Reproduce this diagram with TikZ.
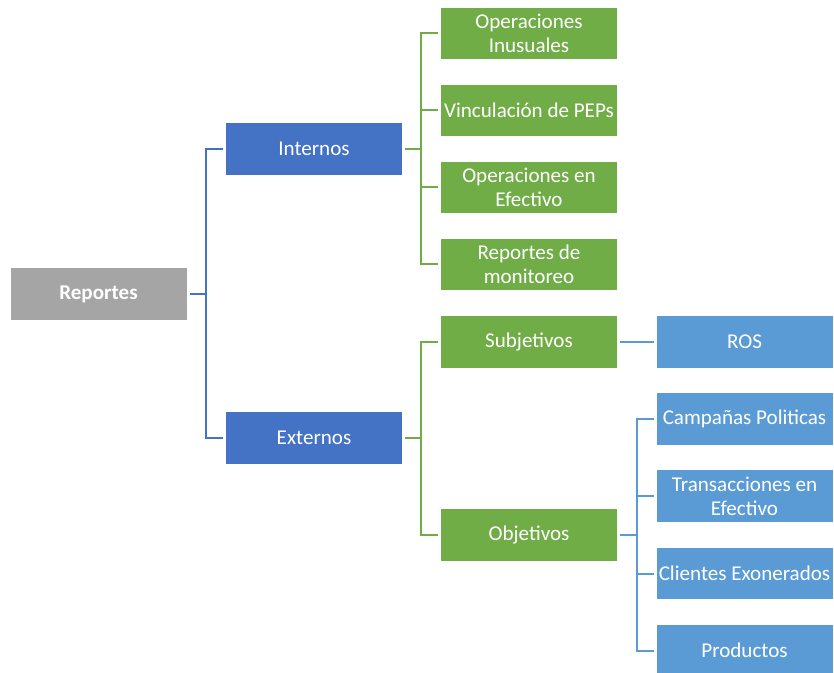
\documentclass[tikz,border=0pt]{standalone}
\usepackage{fontspec}
\setmainfont{Carlito}
\definecolor{gris}{HTML}{A5A5A5}
\definecolor{azul}{HTML}{4472C4}
\definecolor{verde}{HTML}{70AD47}
\definecolor{celeste}{HTML}{5B9BD5}
\begin{document}
\begin{tikzpicture}
        [x=0.75pt, y=-0.75pt,
        box/.style={rectangle, minimum width=132pt, minimum height=38.5pt,
            align=center, inner sep=0pt, outer sep=2.25pt, text=white,
            font=\fontsize{15.8}{18}\selectfont},
        root/.style={box, fill=gris, font=\fontsize{15.8}{18}\selectfont\bfseries},
        level1/.style={box, fill=azul},
        level2/.style={box, fill=verde},
        level3/.style={box, fill=celeste},
        blueline/.style={azul, line width=1.5pt},
        greenline/.style={verde, line width=1.5pt},
        lightline/.style={celeste, line width=1.5pt}]

        \useasboundingbox (0,0) rectangle (834,673);

        \node[root] (rep) at (98.5,294) {Reportes};
        \node[level1] (int) at (314,149) {Internos};
        \node[level1] (ext) at (314,438) {Externos};

        \node[level2] (inu) at (529,33.5) {Operaciones\\Inusuales};
        \node[level2] (pep) at (529,110.5) {Vinculación de PEPs};
        \node[level2] (efe) at (529,187.5) {Operaciones en\\Efectivo};
        \node[level2] (mon) at (529,264.5) {Reportes de\\monitoreo};
        \node[level2] (sub) at (529,342) {Subjetivos};
        \node[level2] (obj) at (529,535) {Objetivos};

        \node[level3] (ros) at (744.5,342) {ROS};
        \node[level3] (cam) at (744.5,419) {Campañas Politicas};
        \node[level3] (tra) at (744.5,496) {Transacciones en\\Efectivo};
        \node[level3] (cli) at (744.5,573.5) {Clientes Exonerados};
        \node[level3] (pro) at (744.5,650.5) {Productos};

        % first level
        \draw[blueline] (rep.east) -- ++(16,0) |- (int.west);
        \draw[blueline] (rep.east) -- ++(16,0) |- (ext.west);

        % internal reports
        \draw[greenline] (int.east) -- ++(16,0) |- (inu.west);
        \draw[greenline] (int.east) -- ++(16,0) |- (pep.west);
        \draw[greenline] (int.east) -- ++(16,0) |- (efe.west);
        \draw[greenline] (int.east) -- ++(16,0) |- (mon.west);

        % external reports
        \draw[greenline] (ext.east) -- ++(16,0) |- (sub.west);
        \draw[greenline] (ext.east) -- ++(16,0) |- (obj.west);

        % subjective and objective
        \draw[lightline] (sub.east) -- (ros.west);
        \draw[lightline] (obj.east) -- ++(17,0) |- (cam.west);
        \draw[lightline] (obj.east) -- ++(17,0) |- (tra.west);
        \draw[lightline] (obj.east) -- ++(17,0) |- (cli.west);
        \draw[lightline] (obj.east) -- ++(17,0) |- (pro.west);

    \end{tikzpicture}
\end{document}
